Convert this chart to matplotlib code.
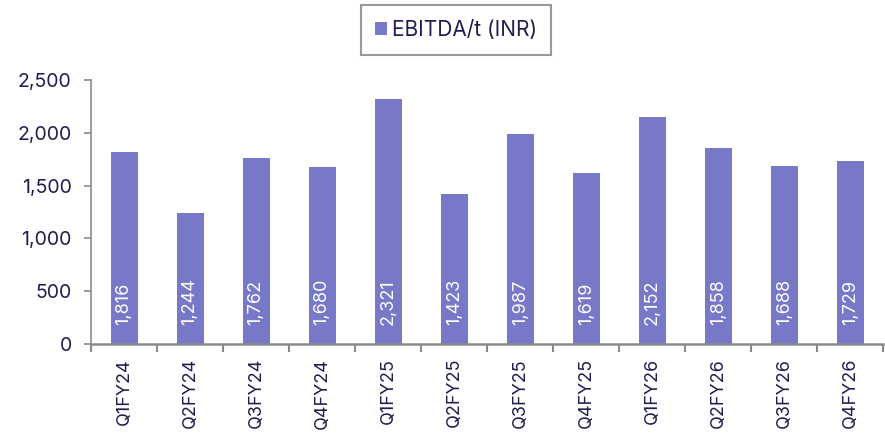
import matplotlib
matplotlib.use("Agg")
import matplotlib.pyplot as plt
import numpy as np

categories = ["Q1FY24", "Q2FY24", "Q3FY24", "Q4FY24", "Q1FY25", "Q2FY25",
              "Q3FY25", "Q4FY25", "Q1FY26", "Q2FY26", "Q3FY26", "Q4FY26"]
ebitda_per_t = [1816, 1244, 1762, 1680, 2321, 1423, 1987, 1619, 2152, 1858, 1688, 1729]
yticks = [0, 500, 1000, 1500, 2000, 2500]
series_name = "EBITDA/t (INR)"

plt.rcParams['font.family'] = ['Inter', 'DejaVu Sans']
text_color = "#1e1e50"
bar_color = "#7878c8"
spine_color = "#8a8a8a"

fig = plt.figure(figsize=(8.85, 4.38), dpi=100)
ax = fig.add_axes([0.103, 0.2146, 0.895, 0.6027])

x = np.arange(len(categories))
bars = ax.bar(x, ebitda_per_t, width=0.41, color=bar_color, label=series_name, zorder=2)

for xi, v in zip(x, ebitda_per_t):
    ax.annotate(f"{v:,}", xy=(xi, 0), xytext=(0, 14), textcoords="offset points",
                rotation=90, ha="center", va="bottom", color="white", fontsize=13)

ax.set_xlim(-0.5, len(categories) - 0.5)
ax.set_ylim(0, 2500)
ax.set_yticks(yticks)
ax.set_yticklabels([f"{t:,}" for t in yticks], fontsize=14, color=text_color)
ax.set_xticks(x)
ax.set_xticklabels(categories, rotation=90, fontsize=13, color=text_color)
ax.tick_params(axis='x', which='major', length=0, pad=10)
ax.set_xticks(np.arange(-0.5, len(categories), 1.0), minor=True)
ax.tick_params(axis='x', which='minor', length=6, color=spine_color, width=1.5)
ax.tick_params(axis='y', length=5, color=spine_color, width=1.2, pad=9)

for s in ["top", "right"]:
    ax.spines[s].set_visible(False)
for s in ["left", "bottom"]:
    ax.spines[s].set_color(spine_color)
ax.spines["left"].set_linewidth(1.2)
ax.spines["bottom"].set_linewidth(1.8)

leg = fig.legend(handles=[bars], labels=[series_name], loc="center",
                 bbox_to_anchor=(456 / 885, 1 - 30 / 438), fontsize=15,
                 frameon=True, fancybox=False, handlelength=0.55, handleheight=0.55,
                 handletextpad=0.25, borderpad=0.7, borderaxespad=0)
leg.get_frame().set_edgecolor("#7f7f7f")
leg.get_frame().set_linewidth(1.5)
for t in leg.get_texts():
    t.set_color(text_color)

fig.savefig("out.png", dpi=100)
